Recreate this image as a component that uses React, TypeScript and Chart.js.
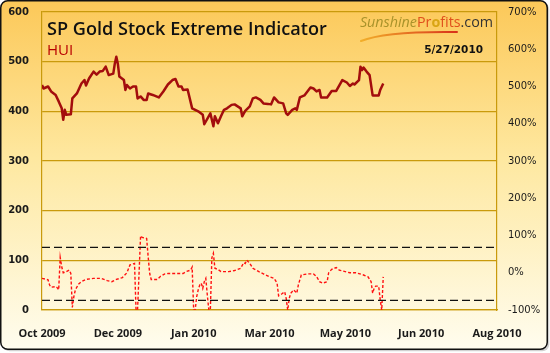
import { useEffect, useRef } from "react";
import { Chart, registerables } from "chart.js";

Chart.register(...registerables);

// ---------- data ----------
const START_DATE = "2009-10-14";
const X_MAX_DAYS = 300;
const X_STEP_DAYS = 50;
const MONTHS = ["Jan", "Feb", "Mar", "Apr", "May", "Jun", "Jul", "Aug", "Sep", "Oct", "Nov", "Dec"];

const huiDates = [
  "2009-10-14", "2009-10-15", "2009-10-18", "2009-10-20", "2009-10-23", "2009-10-25", "2009-10-27", "2009-10-28",
  "2009-10-29", "2009-10-30", "2009-11-02", "2009-11-03", "2009-11-06", "2009-11-09", "2009-11-11", "2009-11-12",
  "2009-11-14", "2009-11-17", "2009-11-19", "2009-11-21", "2009-11-23", "2009-11-25", "2009-11-27", "2009-11-30",
  "2009-12-01", "2009-12-02", "2009-12-03", "2009-12-04", "2009-12-07", "2009-12-08", "2009-12-09", "2009-12-11",
  "2009-12-13", "2009-12-15", "2009-12-16", "2009-12-18", "2009-12-20", "2009-12-22", "2009-12-23", "2009-12-26",
  "2009-12-30", "2010-01-02", "2010-01-05", "2010-01-08", "2010-01-10", "2010-01-12", "2010-01-14", "2010-01-15",
  "2010-01-18", "2010-01-21", "2010-01-25", "2010-01-28", "2010-01-29", "2010-02-02", "2010-02-04", "2010-02-05",
  "2010-02-07", "2010-02-09", "2010-02-11", "2010-02-13", "2010-02-16", "2010-02-18", "2010-02-22", "2010-02-23",
  "2010-02-25", "2010-02-28", "2010-03-02", "2010-03-04", "2010-03-07", "2010-03-09", "2010-03-12", "2010-03-14",
  "2010-03-16", "2010-03-19", "2010-03-22", "2010-03-24", "2010-03-25", "2010-03-28", "2010-03-30", "2010-03-31",
  "2010-04-02", "2010-04-05", "2010-04-09", "2010-04-11", "2010-04-13", "2010-04-15", "2010-04-16", "2010-04-20",
  "2010-04-23", "2010-04-26", "2010-04-30", "2010-05-03", "2010-05-05", "2010-05-07", "2010-05-08", "2010-05-11",
  "2010-05-12", "2010-05-13", "2010-05-14", "2010-05-16", "2010-05-18", "2010-05-20", "2010-05-24", "2010-05-25",
  "2010-05-27",
];
const huiValues = [
  453, 446, 450, 440, 433, 420, 406, 383,
  403, 393, 394, 426, 436, 456, 463, 452,
  466, 480, 474, 480, 481, 490, 473, 476,
  496, 510, 496, 470, 463, 443, 453, 446,
  450, 450, 426, 430, 423, 423, 436, 433,
  428, 440, 454, 463, 465, 450, 450, 443,
  444, 406, 400, 393, 374, 396, 370, 390,
  376, 390, 403, 406, 413, 414, 406, 390,
  401, 410, 426, 428, 423, 416, 415, 414,
  428, 418, 416, 396, 393, 403, 406, 403,
  428, 432, 448, 446, 440, 443, 428, 428,
  441, 441, 463, 458, 451, 456, 454, 463,
  490, 483, 488, 480, 473, 432, 432, 443,
  456,
];

const indicatorDates = [
  "2009-10-14", "2009-10-16", "2009-10-18", "2009-10-19", "2009-10-20", "2009-10-23", "2009-10-24", "2009-10-25",
  "2009-10-26", "2009-10-27", "2009-10-28", "2009-10-30", "2009-11-01", "2009-11-02", "2009-11-03", "2009-11-04",
  "2009-11-05", "2009-11-07", "2009-11-09", "2009-11-12", "2009-11-17", "2009-11-22", "2009-11-26", "2009-11-29",
  "2009-12-02", "2009-12-06", "2009-12-09", "2009-12-11", "2009-12-14", "2009-12-15", "2009-12-16", "2009-12-18",
  "2009-12-19", "2009-12-22", "2009-12-23", "2009-12-24", "2009-12-25", "2009-12-29", "2009-12-31", "2010-01-03",
  "2010-01-05", "2010-01-15", "2010-01-17", "2010-01-20", "2010-01-21", "2010-01-22", "2010-01-23", "2010-01-24",
  "2010-01-25", "2010-01-26", "2010-01-27", "2010-01-28", "2010-01-29", "2010-01-30", "2010-01-31", "2010-02-01",
  "2010-02-02", "2010-02-03", "2010-02-04", "2010-02-05", "2010-02-07", "2010-02-09", "2010-02-14", "2010-02-18",
  "2010-02-22", "2010-02-24", "2010-02-25", "2010-02-26", "2010-02-28", "2010-03-02", "2010-03-06", "2010-03-09",
  "2010-03-13", "2010-03-16", "2010-03-18", "2010-03-19", "2010-03-21", "2010-03-23", "2010-03-24", "2010-03-25",
  "2010-03-26", "2010-03-27", "2010-03-29", "2010-03-31", "2010-04-01", "2010-04-02", "2010-04-03", "2010-04-07",
  "2010-04-11", "2010-04-13", "2010-04-15", "2010-04-17", "2010-04-20", "2010-04-21", "2010-04-23", "2010-04-26",
  "2010-04-28", "2010-05-02", "2010-05-05", "2010-05-09", "2010-05-14", "2010-05-17", "2010-05-19", "2010-05-20",
  "2010-05-21", "2010-05-22", "2010-05-24", "2010-05-25", "2010-05-26", "2010-05-27",
];
const indicatorValues = [
  -15, -17, -19, -33, -39, -37, -40, -46,
  41, 16, 0, 3, 7, -2, -93, -64,
  -46, -31, -24, -18, -15, -15, -21, -24,
  -18, -13, 0, 21, 25, -100, -100, 99,
  95, 92, 43, -2, -18, -18, -10, -3,
  -2, -2, 3, 7, 15, -100, -100, -64,
  -46, -33, -28, -42, -24, -15, -60, -100,
  -100, 40, 52, 12, 9, 3, 3, 6,
  12, 27, 25, 34, 25, 12, 3, -3,
  -11, -15, -28, -62, -57, -51, -69, -100,
  -69, -55, -46, -55, -33, -19, -6, -3,
  -3, -10, -24, -28, -24, 0, 9, 14,
  7, 3, 0, 0, -6, -11, -24, -55,
  -42, -36, -36, -73, -100, -11,
];

const UPPER_BAND = 68;
const LOWER_BAND = -74;

const LEFT_MIN = 0;
const LEFT_MAX = 600;
const LEFT_STEP = 100;
const RIGHT_MIN = -100;
const RIGHT_MAX = 700;
const RIGHT_STEP = 100;

const TITLE = "SP Gold Stock Extreme Indicator";
const SUBTITLE = "HUI";
const DATE_LABEL = "5/27/2010";

// ---------- helpers ----------
const toUTC = (s: string) => {
  const [y, m, d] = s.split("-").map(Number);
  return Date.UTC(y, m - 1, d);
};
const START_UTC = toUTC(START_DATE);
const dayOf = (s: string) => Math.round((toUTC(s) - START_UTC) / 86400000);
const tickDate = (v: number) => {
  const dt = new Date(START_UTC + v * 86400000);
  return `${MONTHS[dt.getUTCMonth()]} ${dt.getUTCFullYear()}`;
};

const GOLD = "#C99A0C";

const framePlugin = {
  id: "frame",
  beforeDraw(chart: any) {
    const { ctx, width, height } = chart;
    ctx.save();
    ctx.fillStyle = "#ffffff";
    ctx.fillRect(0, 0, width, height);
    const x0 = 0.75, y0 = 0.75, w = 546.5, h = 348.5, r = 7;
    ctx.fillStyle = "rgba(0,0,0,0.18)";
    ctx.beginPath();
    ctx.roundRect(x0 + 2, y0 + 2, w, h, r);
    ctx.fill();
    const g = ctx.createLinearGradient(0, 0, 0, height);
    g.addColorStop(0, "#FCC858");
    g.addColorStop(0.45, "#FEE8A0");
    g.addColorStop(1, "#FFFDF0");
    ctx.fillStyle = g;
    ctx.beginPath();
    ctx.roundRect(x0, y0, w, h, r);
    ctx.fill();
    ctx.lineWidth = 1.5;
    ctx.strokeStyle = "#111111";
    ctx.stroke();
    ctx.restore();
  },
};

const fitFont = (ctx: any, text: string, style: string, family: string, target: number) => {
  ctx.font = `${style} 20px ${family}`;
  const w = ctx.measureText(text).width;
  return (20 * target) / w;
};

const textPlugin = {
  id: "texts",
  afterDraw(chart: any) {
    const { ctx } = chart;
    ctx.save();
    ctx.textBaseline = "alphabetic";
    ctx.textAlign = "left";
    // title
    const ts = fitFont(ctx, TITLE, "600", "'Open Sans'", 280);
    ctx.fillStyle = "#111111";
    ctx.font = `600 ${ts}px 'Open Sans'`;
    ctx.fillText(TITLE, 47, 35);
    // subtitle
    ctx.fillStyle = "#B80000";
    ctx.font = "15px 'Open Sans'";
    ctx.fillText(SUBTITLE, 47, 55);
    // date
    ctx.fillStyle = "#111111";
    ctx.font = "bold 10.5px 'DejaVu Sans'";
    ctx.textAlign = "right";
    ctx.fillText(DATE_LABEL, 483, 53);
    // logo
    ctx.textAlign = "left";
    const base = 27;
    const size = 14.3;
    const parts: [string, string, string][] = [
      ["Sunshine", `italic ${size}px 'Open Sans'`, "#A8922A"],
      ["Pr", `${size}px 'Open Sans'`, "#E0501C"],
      ["o", `bold ${size}px 'Open Sans'`, "#D9A514"],
      ["fits", `${size}px 'Open Sans'`, "#E0501C"],
      [".com", `${size}px 'Open Sans'`, "#333333"],
    ];
    let total = 0;
    for (const [t, f] of parts) {
      ctx.font = f;
      total += ctx.measureText(t).width;
    }
    let x = 493 - total;
    for (const [t, f, c] of parts) {
      ctx.font = f;
      ctx.fillStyle = c;
      ctx.fillText(t, x, base);
      x += ctx.measureText(t).width;
    }
    // swoosh
    const sg = ctx.createLinearGradient(360, 0, 458, 0);
    sg.addColorStop(0, "#F2B02A");
    sg.addColorStop(1, "#D8301A");
    ctx.strokeStyle = sg;
    ctx.lineWidth = 2;
    ctx.lineCap = "round";
    ctx.beginPath();
    ctx.moveTo(361, 41);
    ctx.quadraticCurveTo(385, 31, 457, 32);
    ctx.stroke();
    ctx.restore();
  },
};

const fixVertical = (w: number) => (s: any) => {
  s.width = w;
  s.paddingTop = 0;
  s.paddingBottom = 0;
};

export default function App() {
  const ref = useRef<HTMLCanvasElement>(null);

  useEffect(() => {
    document.body.style.margin = "0";
    const canvas = ref.current;
    if (!canvas) return;

    const hui = huiDates.map((d, i) => ({ x: dayOf(d), y: huiValues[i] }));
    const ind = indicatorDates.map((d, i) => ({ x: dayOf(d), y: indicatorValues[i] }));

    const chart = new Chart(canvas, {
      type: "line",
      data: {
        datasets: [
          {
            data: [{ x: 0, y: UPPER_BAND }, { x: X_MAX_DAYS, y: UPPER_BAND }],
            yAxisID: "y2",
            borderColor: "#111111",
            borderWidth: 1.3,
            borderDash: [8, 4],
            pointRadius: 0,
          },
          {
            data: [{ x: 0, y: LOWER_BAND }, { x: X_MAX_DAYS, y: LOWER_BAND }],
            yAxisID: "y2",
            borderColor: "#111111",
            borderWidth: 1.3,
            borderDash: [8, 4],
            pointRadius: 0,
          },
          {
            data: ind,
            yAxisID: "y2",
            borderColor: "#FF1010",
            borderWidth: 1.4,
            borderDash: [3, 2],
            pointRadius: 0,
          },
          {
            data: hui,
            yAxisID: "y",
            borderColor: "#A30D0D",
            borderWidth: 2.5,
            pointRadius: 0,
            borderJoinStyle: "round",
          },
        ],
      },
      options: {
        animation: false,
        responsive: false,
        maintainAspectRatio: false,
        layout: { autoPadding: false, padding: { top: 12, left: 0, right: 0, bottom: 0 } },
        plugins: { legend: { display: false }, tooltip: { enabled: false }, title: { display: false } },
        scales: {
          x: {
            type: "linear",
            min: 0,
            max: X_MAX_DAYS,
            afterFit: (s: any) => { s.height = 43; s.paddingLeft = 0; s.paddingRight = 0; },
            ticks: {
              stepSize: X_STEP_DAYS,
              autoSkip: false,
              maxRotation: 0,
              padding: 17,
              color: "#1a1a1a",
              font: { family: "'Open Sans'", size: 11, weight: "bold" },
              callback: (v: any) => tickDate(Number(v)),
            },
            grid: { display: false, drawTicks: false },
            border: { display: true, color: GOLD, width: 1.2 },
          },
          y: {
            position: "left",
            min: LEFT_MIN,
            max: LEFT_MAX,
            afterFit: fixVertical(42),
            ticks: {
              stepSize: LEFT_STEP,
              padding: 13,
              color: "#1a1a1a",
              font: { family: "'DejaVu Sans'", size: 10, weight: "bold" },
            },
            grid: { color: GOLD, lineWidth: 1.2, drawTicks: false },
            border: { display: true, color: GOLD, width: 1.2 },
          },
          y2: {
            position: "right",
            min: RIGHT_MIN,
            max: RIGHT_MAX,
            afterFit: fixVertical(53),
            ticks: {
              stepSize: RIGHT_STEP,
              padding: 11,
              color: "#1a1a1a",
              font: { family: "'DejaVu Sans'", size: 10 },
              callback: (v: any) => `${v}%`,
            },
            grid: { display: false, drawTicks: false },
            border: { display: true, color: GOLD, width: 1.2 },
          },
        },
      },
      plugins: [framePlugin, textPlugin],
    } as any);

    return () => chart.destroy();
  }, []);

  return <canvas ref={ref} width={550} height={353} style={{ display: "block" }} />;
}
